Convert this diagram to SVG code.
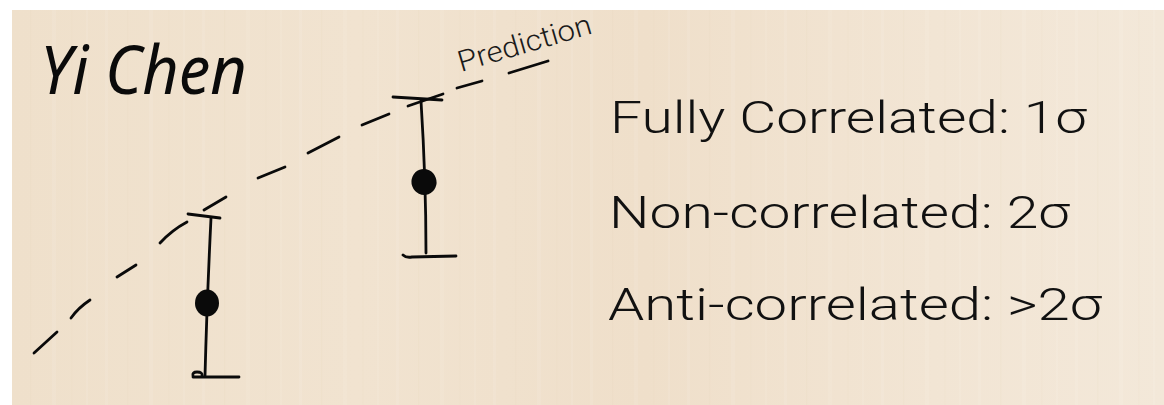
<svg xmlns="http://www.w3.org/2000/svg" width="1164" height="405" viewBox="0 0 1164 405">
  <defs>
    <linearGradient id="wood" x1="0" y1="0" x2="1" y2="0">
      <stop offset="0" stop-color="#efe0cb"/>
      <stop offset="0.3" stop-color="#f1e3d0"/>
      <stop offset="0.55" stop-color="#efdfca"/>
      <stop offset="0.8" stop-color="#f2e5d4"/>
      <stop offset="1" stop-color="#f3e8d9"/>
    </linearGradient>
    <pattern id="grain" x="0" y="0" width="97" height="405" patternUnits="userSpaceOnUse">
      <rect x="8" y="0" width="3" height="405" fill="#ffffff" opacity="0.08"/>
      <rect x="30" y="0" width="1.5" height="405" fill="#d9c2a4" opacity="0.07"/>
      <rect x="52" y="0" width="4" height="405" fill="#ffffff" opacity="0.07"/>
      <rect x="71" y="0" width="1.5" height="405" fill="#d9c2a4" opacity="0.06"/>
      <rect x="86" y="0" width="2" height="405" fill="#ffffff" opacity="0.07"/>
    </pattern>
    <style>
      .ink { fill: none; stroke: #0a0a0a; stroke-width: 2.8; stroke-linecap: round; stroke-linejoin: round; }
      .dot { fill: #0a0a0a; }
      .lbl { font-family: Roboto, "Liberation Sans", Arial, sans-serif; font-weight: 300; fill: #111; font-size: 45px; }
    </style>
  </defs>

  <rect x="0" y="0" width="1164" height="405" fill="#ffffff"/>
  <rect x="12" y="10" width="1152" height="395" fill="url(#wood)"/>
  <rect x="12" y="10" width="1152" height="395" fill="url(#grain)"/>

  <g id="title">
    <text x="40" y="94" font-family="'Noto Sans', 'Open Sans', sans-serif" font-style="italic" font-size="68" fill="#0a0a0a" textLength="207" lengthAdjust="spacingAndGlyphs">Yi Chen</text>
  </g>

  <g id="prediction-label">
    <text transform="translate(461,72) rotate(-16.3)" font-family="Roboto, 'Liberation Sans', Arial, sans-serif" font-weight="300" font-size="29" fill="#1a1a1a" textLength="138" lengthAdjust="spacingAndGlyphs">Prediction</text>
  </g>

  <g id="connectors">
    <g id="prediction-line" class="ink">
      <path d="M34,353 L57,332"/>
      <path d="M71,318 Q78,308 90,300"/>
      <path d="M117,277 L136,265"/>
      <path d="M160,243 Q172,230 187,222"/>
      <path d="M204,210 L226,197"/>
      <path d="M258,178 L285,167"/>
      <path d="M308,153 L339,137"/>
      <path d="M362,125 L389,114"/>
      <path d="M457,88 L482,81"/>
      <path d="M509,73 L548,61"/>
    </g>
  </g>

  <g id="errorbar-1">
    <path class="ink" d="M188,214 L220,218"/>
    <path class="ink" d="M211,218 Q207,300 205,376"/>
    <path class="ink" d="M193,376 Q192,372 197,372 Q203,372 202,376 M193,377 L239,377"/>
    <ellipse class="dot" cx="207" cy="303" rx="12" ry="13.5"/>
  </g>

  <g id="errorbar-2">
    <path class="ink" d="M393,97 L442,100"/>
    <path class="ink" d="M408,106 L443,94"/>
    <path class="ink" d="M421,101 Q426,180 426,253"/>
    <path class="ink" d="M403,255 Q406,258 412,257 L456,256"/>
    <ellipse class="dot" cx="424" cy="182" rx="12.5" ry="13" transform="rotate(-20 424 182)"/>
  </g>

  <g id="legend">
    <text class="lbl" x="610" y="133" textLength="477" lengthAdjust="spacingAndGlyphs">Fully Correlated: 1σ</text>
    <text class="lbl" x="609" y="228" textLength="461" lengthAdjust="spacingAndGlyphs">Non-correlated: 2σ</text>
    <text class="lbl" x="608" y="320" textLength="494" lengthAdjust="spacingAndGlyphs">Anti-correlated: &gt;2σ</text>
  </g>
</svg>
